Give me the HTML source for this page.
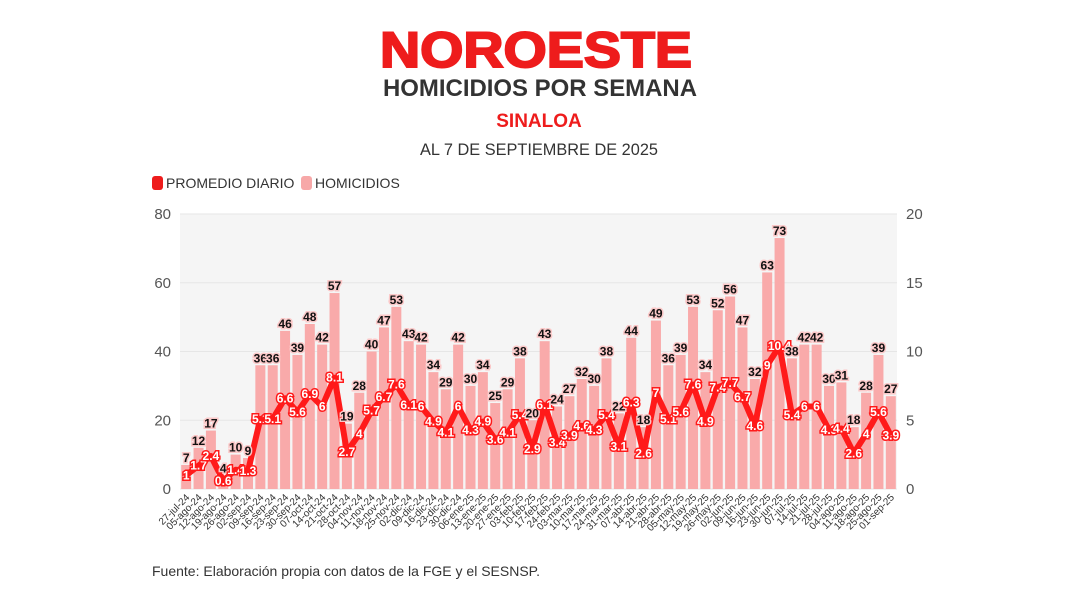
<!DOCTYPE html>
<html><head><meta charset="utf-8"><style>
body{margin:0;background:#fff;width:1079px;height:605px;overflow:hidden;font-family:"Liberation Sans",sans-serif}
</style></head><body>
<svg id="s" width="1079" height="605" xmlns="http://www.w3.org/2000/svg" font-family="Liberation Sans, sans-serif">
<text x="536" y="67" text-anchor="middle" font-size="50" font-weight="bold" fill="#ee1c1c" stroke="#ee1c1c" stroke-width="2" textLength="312" lengthAdjust="spacingAndGlyphs">NOROESTE</text>
<text x="540" y="96" text-anchor="middle" font-size="24" font-weight="bold" fill="#333" textLength="314" lengthAdjust="spacingAndGlyphs">HOMICIDIOS POR SEMANA</text>
<text x="539" y="127" text-anchor="middle" font-size="19" font-weight="bold" fill="#ee1c1c">SINALOA</text>
<text x="539" y="155" text-anchor="middle" font-size="17" fill="#333" textLength="238" lengthAdjust="spacingAndGlyphs">AL 7 DE SEPTIEMBRE DE 2025</text>
<rect x="152" y="176" width="11" height="14" rx="3" fill="#ee1c1c"/>
<text x="166" y="188" font-size="14" fill="#333">PROMEDIO DIARIO</text>
<rect x="301" y="176" width="11" height="14" rx="3" fill="#f7a8a8"/>
<text x="315" y="188" font-size="14" fill="#333">HOMICIDIOS</text>
<rect x="180" y="214" width="717" height="275" fill="#f5f5f5"/>
<text x="152" y="576" font-size="14" fill="#333">Fuente: Elaboración propia con datos de la FGE y el SESNSP.</text>
<g id="g"></g>
</svg>
<script>
var v=[7,12,17,4,10,9,36,36,46,39,48,42,57,19,28,40,47,53,43,42,34,29,42,30,34,25,29,38,20,43,24,27,32,30,38,22,44,18,49,36,39,53,34,52,56,47,32,63,73,38,42,42,30,31,18,28,39,27];
var l=[1,1.7,2.4,0.6,1.4,1.3,5.1,5.1,6.6,5.6,6.9,6,8.1,2.7,4,5.7,6.7,7.6,6.1,6,4.9,4.1,6,4.3,4.9,3.6,4.1,5.4,2.9,6.1,3.4,3.9,4.6,4.3,5.4,3.1,6.3,2.6,7,5.1,5.6,7.6,4.9,7.4,7.7,6.7,4.6,9,10.4,5.4,6,6,4.3,4.4,2.6,4,5.6,3.9];
var d="27-jul-24,05-ago-24,12-ago-24,19-ago-24,26-ago-24,02-sep-24,09-sep-24,16-sep-24,23-sep-24,30-sep-24,07-oct-24,14-oct-24,21-oct-24,28-oct-24,04-nov-24,11-nov-24,18-nov-24,25-nov-24,02-dic-24,09-dic-24,16-dic-24,23-dic-24,30-dic-24,06-ene-25,13-ene-25,20-ene-25,27-ene-25,03-feb-25,10-feb-25,17-feb-25,24-feb-25,03-mar-25,10-mar-25,17-mar-25,24-mar-25,31-mar-25,07-abr-25,14-abr-25,21-abr-25,28-abr-25,05-may-25,12-may-25,19-may-25,26-may-25,02-jun-25,09-jun-25,16-jun-25,23-jun-25,30-jun-25,07-jul-25,14-jul-25,21-jul-25,28-jul-25,04-ago-25,11-ago-25,18-ago-25,25-ago-25,01-sep-25".split(",");
var h='',x0=180,w=717/58,Y=function(a){return 489-a*275/80};
for(var i=0;i<=4;i++){var y=Y(i*20);h+='<line x1="180" x2="897" y1="'+y+'" y2="'+y+'" stroke="#e6e6e6"/><text x="171" y="'+(y+5)+'" text-anchor="end" font-size="15" fill="#555">'+i*20+'</text><text x="906" y="'+(y+5)+'" font-size="15" fill="#555">'+i*5+'</text>';}
var pts=[];
for(i=0;i<58;i++){var cx=x0+w*(i+.5);h+='<rect x="'+(cx-5)+'" y="'+Y(v[i])+'" width="10" height="'+(489-Y(v[i]))+'" fill="#f9aaaa"/>';pts.push(cx+','+Y(l[i]*4));
h+='<text transform="translate('+(cx+4)+',498) rotate(-45)" text-anchor="end" font-size="10" fill="#333">'+d[i]+'</text>';}
h+='<polyline points="'+pts.join(' ')+'" fill="none" stroke="#ff1a1a" stroke-width="6" stroke-linejoin="round"/>';
for(i=0;i<58;i++){var cx=x0+w*(i+.5);
h+='<text x="'+cx+'" y="'+(Y(v[i])-3)+'" text-anchor="middle" font-size="12" font-weight="bold" fill="#111" stroke="#fbc8c8" stroke-width="3" paint-order="stroke">'+v[i]+'</text>';
h+='<text x="'+cx+'" y="'+(Y(l[i]*4)+4)+'" text-anchor="middle" font-size="12" font-weight="bold" fill="#fff" stroke="#ff1a1a" stroke-width="3" paint-order="stroke">'+l[i]+'</text>';}
document.getElementById('g').innerHTML=h;
</script>
</body></html>
